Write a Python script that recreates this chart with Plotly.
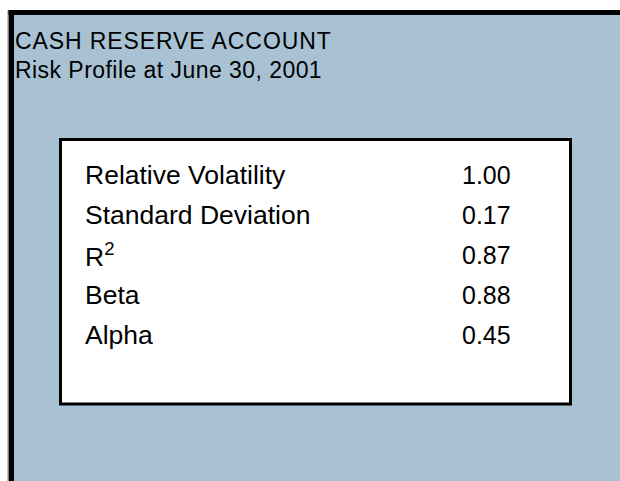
import plotly.graph_objects as go

W, H = 620, 481

title_lines = ["CASH RESERVE ACCOUNT", "Risk Profile at June 30, 2001"]
title_spacing = [0.9, 0.45]
metrics = ["Relative Volatility", "Standard Deviation", "R<sup>2</sup>", "Beta", "Alpha"]
values = [1.00, 0.17, 0.87, 0.88, 0.45]

BLUE = "#a8c2d4"
FONT = "Liberation Sans, Arial, sans-serif"

def py(p):
    return 1 - p / H

fig = go.Figure()

shapes = [
    # blue panel
    dict(type="rect", xref="paper", yref="paper", x0=14 / W, x1=1, y0=0, y1=py(15),
         fillcolor=BLUE, line=dict(width=0), layer="below"),
    # top black bar
    dict(type="rect", xref="paper", yref="paper", x0=8 / W, x1=1, y0=py(15), y1=py(10),
         fillcolor="black", line=dict(width=0), layer="below"),
    # left black bar
    dict(type="rect", xref="paper", yref="paper", x0=8.5 / W, x1=14 / W, y0=0, y1=py(10),
         fillcolor="black", line=dict(width=0), layer="below"),
    dict(type="line", xref="paper", yref="paper", x0=8 / W, x1=8 / W, y0=0, y1=py(10),
         line=dict(color="#888888", width=1), layer="below"),
    # white box
    dict(type="rect", xref="paper", yref="paper", x0=60.5 / W, x1=570.5 / W, y0=py(404), y1=py(139.5),
         fillcolor="white", line=dict(color="black", width=3), layer="below"),
]

annotations = []
for i, (t, ls) in enumerate(zip(title_lines, title_spacing)):
    annotations.append(dict(
        text=f'<span style="letter-spacing:{ls}px">{t}</span>', xref="paper", yref="paper",
        x=13 / W, y=py(41 + 29 * i),
        xanchor="left", yanchor="middle", showarrow=False,
        font=dict(family=FONT, size=23, color="black")))

for i, (m, v) in enumerate(zip(metrics, values)):
    annotations.append(dict(
        text=m, xref="x", yref="y", x=83, y=i, xanchor="left", yanchor="middle",
        showarrow=False, font=dict(family=FONT, size=26.5, color="black")))
    annotations.append(dict(
        text=f"{v:.2f}", xref="x", yref="y", x=513, y=i, xanchor="right", yanchor="middle",
        showarrow=False, font=dict(family=FONT, size=25, color="black")))

# row i sits at pixel 175 + 40*i
a = -175 / 40
b = a + H / 40

fig.update_layout(
    width=W, height=H, margin=dict(l=0, r=0, t=0, b=0),
    paper_bgcolor="white", plot_bgcolor="rgba(0,0,0,0)",
    xaxis=dict(range=[0, W], visible=False, domain=[0, 1], fixedrange=True),
    yaxis=dict(range=[b, a], visible=False, domain=[0, 1], fixedrange=True),
    shapes=shapes, annotations=annotations, showlegend=False,
)

fig.write_html(
    "out.html",
    config={"displayModeBar": False},
    post_script="document.body.style.margin='0';document.body.style.overflow='hidden';",
)
